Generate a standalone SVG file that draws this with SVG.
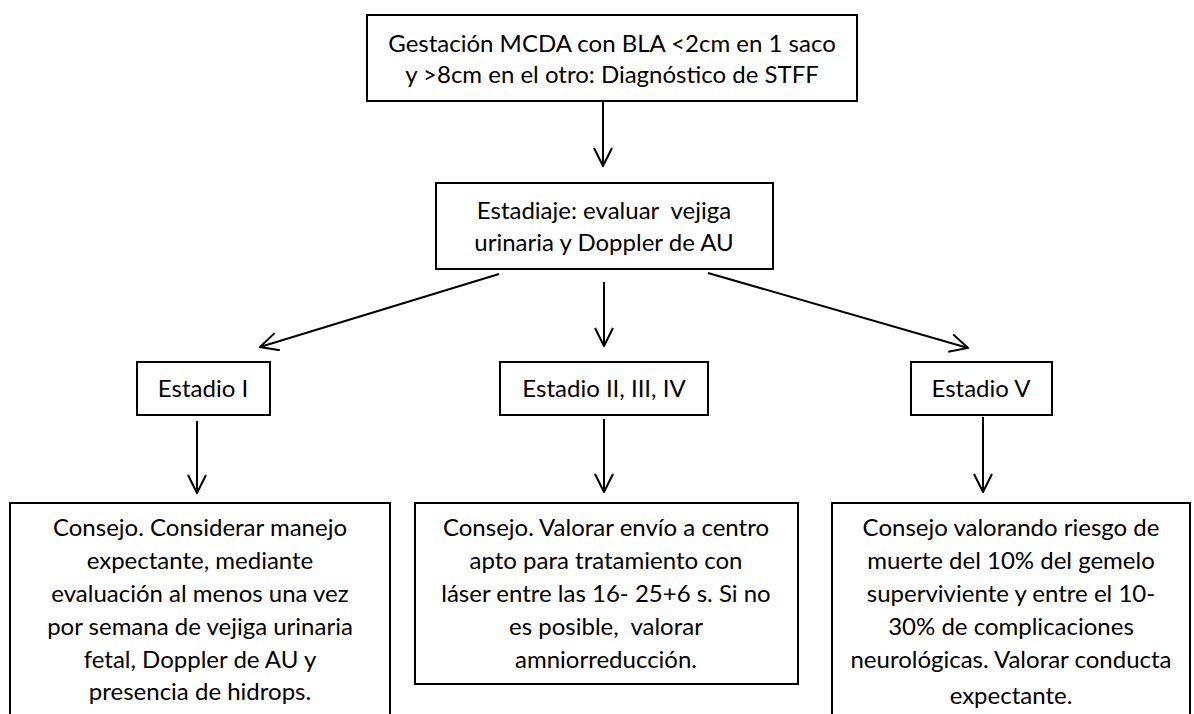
<svg xmlns="http://www.w3.org/2000/svg" width="1194" height="714" viewBox="0 0 1194 714">
<style>
.box{fill:#fff;stroke:#000;stroke-width:2}
.t{font-family:Lato,"Open Sans","Liberation Sans",sans-serif;font-size:24px;fill:#000;text-anchor:middle}
.c{stroke:#000;stroke-width:2;fill:none}
</style>
<defs>
<marker id="ah" markerUnits="userSpaceOnUse" viewBox="0 0 20 20" refX="19" refY="10" markerWidth="20" markerHeight="20" orient="auto">
<path d="M1,1 L19,10 L1,19" fill="none" stroke="#000" stroke-width="2"/>
</marker>
</defs>
<rect width="1194" height="714" fill="#fff"/>
<g id="connectors">
<line class="c" x1="603" y1="101" x2="603" y2="166" marker-end="url(#ah)"/>
<line class="c" x1="499" y1="274" x2="260" y2="347" marker-end="url(#ah)"/>
<line class="c" x1="604" y1="282" x2="604" y2="346" marker-end="url(#ah)"/>
<line class="c" x1="708" y1="273" x2="968" y2="348" marker-end="url(#ah)"/>
<line class="c" x1="197" y1="421" x2="197" y2="493" marker-end="url(#ah)"/>
<line class="c" x1="604" y1="419" x2="604" y2="492" marker-end="url(#ah)"/>
<line class="c" x1="983" y1="417" x2="983" y2="492" marker-end="url(#ah)"/>
</g>
<g id="n_diagnostico">
<rect class="box" x="367" y="15" width="490" height="86"/>
<text class="t" x="612" y="52">Gestación MCDA con BLA &lt;2cm en 1 saco</text>
<text class="t" x="612" y="83">y &gt;8cm en el otro: Diagnóstico de STFF</text>
</g>
<g id="n_estadiaje">
<rect class="box" x="436" y="183" width="337" height="86"/>
<text class="t" x="604" y="219" xml:space="preserve">Estadiaje: evaluar  vejiga</text>
<text class="t" x="604" y="251">urinaria y Doppler de AU</text>
</g>
<g id="n_estadio1">
<rect class="box" x="137" y="362" width="133" height="53"/>
<text class="t" x="203" y="397">Estadio I</text>
</g>
<g id="n_estadio234">
<rect class="box" x="500" y="362" width="208" height="53"/>
<text class="t" x="604" y="397">Estadio II, III, IV</text>
</g>
<g id="n_estadio5">
<rect class="box" x="911" y="362" width="141" height="53"/>
<text class="t" x="981" y="397">Estadio V</text>
</g>
<g id="n_consejo1">
<rect class="box" x="10" y="503" width="380" height="230"/>
<text class="t" x="200" y="536">Consejo. Considerar manejo</text>
<text class="t" x="200" y="569">expectante, mediante</text>
<text class="t" x="200" y="602">evaluación al menos una vez</text>
<text class="t" x="200" y="635">por semana de vejiga urinaria</text>
<text class="t" x="200" y="668">fetal, Doppler de AU y</text>
<text class="t" x="200" y="700">presencia de hidrops.</text>
</g>
<g id="n_consejo2">
<rect class="box" x="415" y="503" width="383" height="181"/>
<text class="t" x="606" y="536">Consejo. Valorar envío a centro</text>
<text class="t" x="606" y="569">apto para tratamiento con</text>
<text class="t" x="606" y="602">láser entre las 16- 25+6 s. Si no</text>
<text class="t" x="606" y="635" xml:space="preserve">es posible,  valorar</text>
<text class="t" x="606" y="668">amniorreducción.</text>
</g>
<g id="n_consejo3">
<rect class="box" x="832" y="503" width="358" height="230"/>
<text class="t" x="1011" y="536">Consejo valorando riesgo de</text>
<text class="t" x="1011" y="569">muerte del 10% del gemelo</text>
<text class="t" x="1011" y="602">superviviente y entre el 10-</text>
<text class="t" x="1011" y="635">30% de complicaciones</text>
<text class="t" x="1011" y="668">neurológicas. Valorar conducta</text>
<text class="t" x="1011" y="704">expectante.</text>
</g>
</svg>
